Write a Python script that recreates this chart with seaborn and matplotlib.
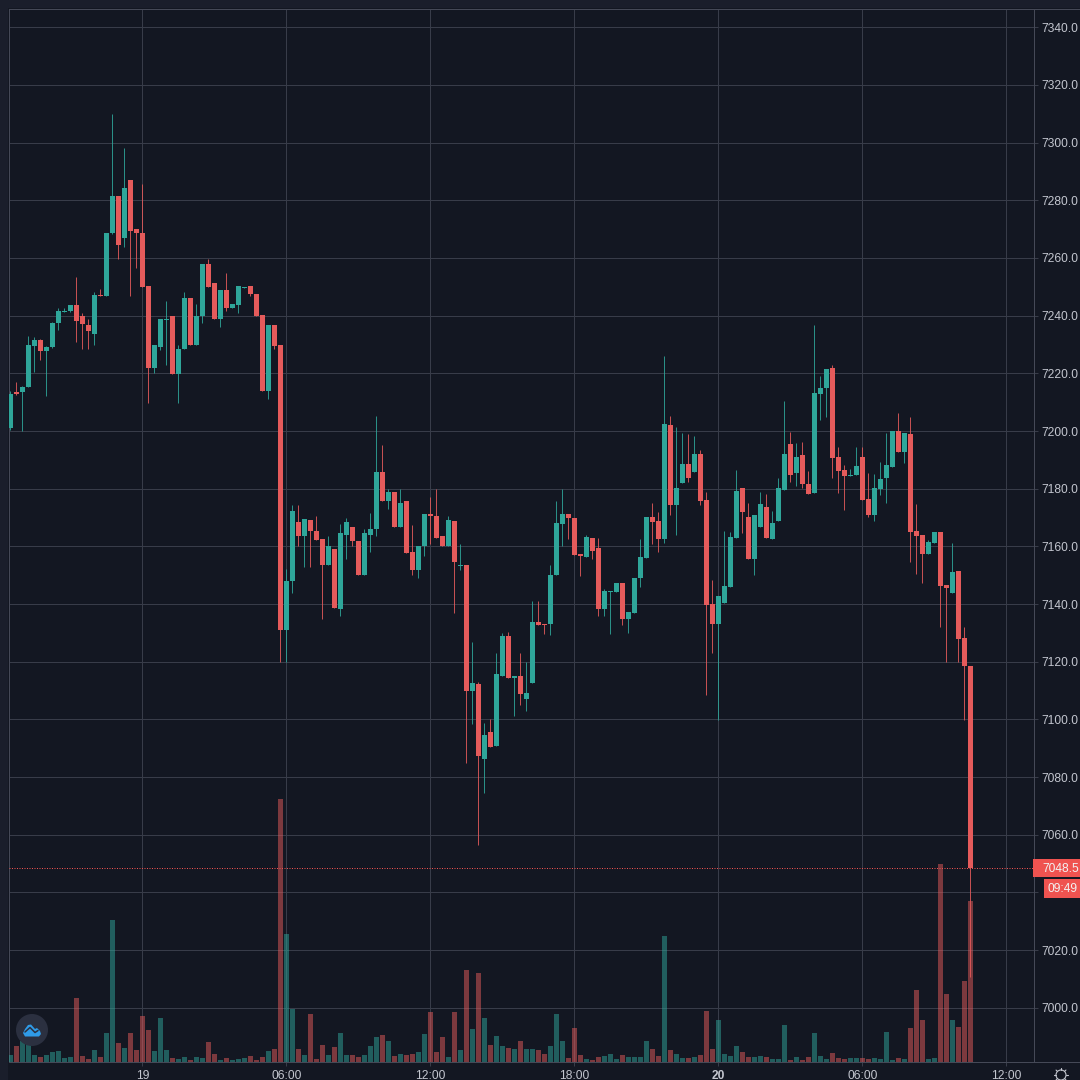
import numpy as np
import matplotlib
matplotlib.use("Agg")
import matplotlib.pyplot as plt
from matplotlib.patches import Rectangle, Circle, Polygon
from matplotlib.lines import Line2D
import seaborn as sns

# 15 minute candles
opens = [7201, 7213.5, 7213.6, 7215.4, 7229.5, 7231.5, 7227.8, 7229, 7237.6, 7241.3,
         7241.7, 7243.6, 7239.8, 7236.7, 7233.5, 7247, 7246.9, 7268.5, 7281.4, 7267,
         7287.2, 7269.9, 7268.8, 7250.2, 7222, 7229.2, 7238.5, 7239.8, 7219.7, 7228.6,
         7246, 7229.8, 7240, 7257.9, 7251.2, 7239, 7248.8, 7242.5, 7243.6, 7249.7,
         7250.2, 7247.5, 7240.2, 7213.9, 7236.7, 7229.8, 7130.9, 7147.9, 7168.3, 7163.5,
         7169.2, 7165.4, 7162.5, 7153.4, 7159.2, 7138.4, 7164, 7166.7, 7162, 7150,
         7164, 7166, 7185.9, 7175.6, 7178.8, 7166.6, 7175.6, 7158, 7151.9, 7160,
         7171.3, 7170.6, 7163.5, 7160, 7168.8, 7153.2, 7153.6, 7109.7, 7112.4, 7086.4,
         7095.5, 7090.9, 7115, 7128.8, 7114.4, 7115, 7107.2, 7112.8, 7133.8, 7133,
         7133, 7150, 7167.9, 7171.2, 7170, 7157.2, 7156.4, 7163, 7159.3, 7138.2,
         7144.2, 7144.3, 7147.3, 7134.9, 7136.8, 7148.9, 7156, 7170.2, 7168.7, 7162.4,
         7202, 7174.5, 7182, 7188.4, 7185.9, 7192, 7176, 7139.9, 7133.2, 7140.2,
         7145.8, 7162.9, 7180.3, 7170.3, 7155.6, 7166.6, 7173.5, 7162.5, 7168.8, 7179.5,
         7195.5, 7185.3, 7191.7, 7181.8, 7178.6, 7212.8, 7214.9, 7221.8, 7191.1, 7186.5,
         7184.4, 7184.6, 7191.1, 7176.3, 7170.9, 7179.9, 7183.8, 7187.6, 7199.9, 7192.7,
         7199, 7165.4, 7163.9, 7157.2, 7161.3, 7165, 7146.6, 7143.7, 7151.6, 7128.2,
         7118.5]
closes = [7212.8, 7213, 7215.4, 7229.8, 7231.5, 7227.8, 7229.2, 7237.6, 7241.6, 7241.7,
          7243.6, 7238.2, 7237, 7234.6, 7247.1, 7246.8, 7268.5, 7281.4, 7264.4, 7284.4,
          7269.3, 7268.7, 7250, 7222, 7230, 7238.8, 7238.8, 7219.7, 7228.6, 7246,
          7229.8, 7240, 7257.9, 7250, 7239, 7248.8, 7242.5, 7243.9, 7250.2, 7250,
          7247.5, 7240, 7213.9, 7236.7, 7229.6, 7130.9, 7148, 7172.4, 7163.5, 7169.5,
          7165.2, 7162.3, 7153.4, 7160, 7138.8, 7164.6, 7168.6, 7162, 7150, 7164.6,
          7166, 7185.9, 7175.6, 7178.8, 7166.6, 7175, 7157.7, 7151.9, 7160.2, 7171.3,
          7170.4, 7163, 7160, 7169, 7154.5, 7153.6, 7110, 7112.6, 7087.2, 7094.6,
          7090.6, 7115.7, 7128.8, 7114.2, 7115, 7108.9, 7109.1, 7133.8, 7132.8, 7132.8,
          7150.2, 7168, 7171.2, 7170, 7157, 7156.8, 7163.4, 7158.5, 7138.2, 7144.5,
          7144.5, 7147.3, 7134.9, 7137.1, 7148.9, 7156.2, 7170.2, 7168.4, 7162.5, 7202.4,
          7174.5, 7180.1, 7188.4, 7183.6, 7191.9, 7175.7, 7139.8, 7133.2, 7142.8, 7146.2,
          7163.2, 7179.3, 7171.9, 7155.6, 7170.9, 7174.7, 7162.8, 7168.1, 7180.1, 7192,
          7184.7, 7191.1, 7181.5, 7178.2, 7213.3, 7214.9, 7221.6, 7190.6, 7186, 7184.4,
          7184.9, 7187.9, 7176, 7171, 7180.1, 7183.4, 7188.2, 7199.9, 7192.7, 7199.2,
          7164.9, 7163.6, 7157.3, 7161.4, 7165, 7146.2, 7145.5, 7151.1, 7127.9, 7118.6,
          7048.5]
highs = [7214, 7217, 7215.6, 7233, 7232.7, 7231.8, 7229.4, 7237.8, 7242.5, 7242.8,
         7243.6, 7253.5, 7241, 7239, 7248.3, 7249.4, 7268.5, 7310, 7281.4, 7298,
         7287.2, 7270.2, 7285.6, 7250.2, 7230, 7238.8, 7245, 7239.8, 7230, 7248.3,
         7246, 7244, 7257.9, 7259.8, 7251.2, 7248.8, 7254.8, 7243.9, 7250.2, 7250,
         7250.2, 7247.5, 7240.2, 7236.7, 7236.7, 7229.8, 7152, 7174.5, 7174.5, 7169.5,
         7169.2, 7170.4, 7162.5, 7163.7, 7159.2, 7167.9, 7169.8, 7166.7, 7162, 7166,
         7171.6, 7205.3, 7195.3, 7180, 7178.8, 7180, 7175.6, 7167.5, 7160.2, 7171.3,
         7177, 7180, 7163.5, 7170.6, 7168.8, 7161, 7153.6, 7127, 7113, 7098.7,
         7100, 7123, 7130, 7130.3, 7115, 7123.2, 7120, 7140.9, 7141, 7133,
         7153.4, 7175.6, 7180, 7171.2, 7170, 7157.2, 7164, 7163, 7162.8, 7145.4,
         7144.5, 7147.3, 7147.3, 7137.1, 7148.9, 7162.5, 7170.2, 7174.9, 7171.8, 7226,
         7205.2, 7201.3, 7199.4, 7199, 7198.3, 7193.4, 7179, 7148.3, 7142.8, 7165.3,
         7165, 7186.5, 7180.3, 7174.9, 7170.9, 7178.8, 7178.2, 7172.4, 7183.6, 7210.4,
         7199.8, 7195.7, 7196.3, 7186.2, 7236.8, 7219, 7221.6, 7223, 7194.3, 7188.2,
         7187, 7194.6, 7194.6, 7185.5, 7185, 7189.4, 7199.4, 7199.9, 7206.4, 7199.2,
         7205, 7174.7, 7163.9, 7162.2, 7165, 7165, 7146.6, 7161.3, 7151.6, 7131.9,
         7118.5]
lows = [7200.5, 7212.5, 7200, 7215.4, 7220.6, 7224.6, 7212, 7228.8, 7235, 7241.3,
        7241.3, 7231, 7228.6, 7228.6, 7229.8, 7246.7, 7246.9, 7268.3, 7259.5, 7263.9,
        7246.9, 7256.4, 7250, 7209.6, 7220, 7228, 7222.9, 7219.7, 7209.6, 7228.6,
        7229.8, 7229.8, 7237.5, 7250, 7239, 7236, 7241.7, 7242.5, 7240.8, 7249.7,
        7246.8, 7240, 7213.9, 7211, 7228.6, 7120, 7120, 7144, 7160, 7152.7,
        7152.7, 7162.3, 7134.8, 7153.4, 7138.8, 7136, 7155.6, 7160, 7150, 7150,
        7157.9, 7163.5, 7175.6, 7173, 7166.6, 7166.6, 7157.7, 7150, 7149, 7156.5,
        7161, 7163, 7160, 7160, 7136.9, 7151.7, 7084.9, 7098.4, 7056.5, 7074.5,
        7090.6, 7090.9, 7115, 7114.2, 7101.3, 7105, 7102.8, 7112.8, 7132.8, 7129.6,
        7129.4, 7150, 7160, 7162.4, 7157, 7149.7, 7156.4, 7155.8, 7136, 7136,
        7129.6, 7144.3, 7132.7, 7129.8, 7136.8, 7145.8, 7156, 7161, 7157.9, 7161.3,
        7170.9, 7164, 7182, 7182.4, 7185.9, 7174.3, 7108.4, 7122.9, 7099.8, 7140.2,
        7145.8, 7162.9, 7164.7, 7155.6, 7150, 7166.6, 7162.8, 7162.5, 7168.8, 7179.5,
        7182.2, 7180.9, 7180.3, 7178.2, 7178.6, 7203.8, 7205, 7183.6, 7178.4, 7172.6,
        7184.4, 7184.6, 7176, 7170.3, 7168.9, 7177.8, 7175.1, 7187.6, 7192.7, 7188.8,
        7154.7, 7150.4, 7147.4, 7157.2, 7161.3, 7131.9, 7119.9, 7143.7, 7119.9, 7099.8,
        7010.7]
volumes = [7, 16, 21, 18, 7, 5, 7, 10, 11, 4, 5, 64, 6, 3, 12, 5, 29, 142, 19, 14,
           29, 12, 46, 32, 11, 44, 12, 4, 3, 5, 2, 5, 4, 20, 8, 2, 4, 2, 3, 4,
           6, 2, 5, 11, 13, 263, 128, 53, 13, 7, 48, 3, 17, 7, 15, 29, 7, 7, 5, 7,
           16, 25, 27, 21, 6, 8, 7, 8, 10, 28, 50, 10, 25, 5, 50, 12, 92, 33, 89, 44,
           17, 26, 16, 14, 13, 21, 13, 13, 12, 8, 16, 48, 21, 4, 34, 7, 3, 2, 5, 6,
           8, 3, 7, 5, 5, 5, 21, 13, 6, 126, 12, 8, 4, 4, 5, 7, 51, 13, 42, 8,
           6, 16, 10, 5, 5, 6, 5, 3, 3, 37, 2, 5, 2, 5, 29, 6, 3, 9, 4, 3,
           4, 4, 4, 3, 4, 3, 30, 2, 4, 3, 34, 72, 42, 3, 4, 198, 68, 42, 35, 81,
           161]
price_ticks = list(range(7000, 7341, 20))
time_ticks = [22, 46, 70, 94, 118, 142, 166]
time_labels = ["19", "06:00", "12:00", "18:00", "20", "06:00", "12:00"]
last_price = 7048.5
countdown = "09:49"

UP = "#2fa69a"
DOWN = "#e55b5b"
PANE = "#131722"
MARGIN = "#1a1e2b"
GRID = "#383c49"
TEXT = "#c3c6cf"

sns.set_theme(style="dark")
plt.rcParams["font.family"] = ["Liberation Sans", "DejaVu Sans"]
plt.rcParams["font.size"] = 8.64


def px(x, y):
    # pixel position in the picture -> figure fraction
    return x / 1080, 1 - y / 1080


fig = plt.figure(figsize=(10.8, 10.8), dpi=100, facecolor=MARGIN)
fig.add_artist(Rectangle(px(8, 1080), 1072 / 1080, 1072 / 1080, transform=fig.transFigure,
                         facecolor=PANE, edgecolor="none", zorder=-5))

left, bottom = px(8.5, 1061.5)
rect = [left, bottom, 1025 / 1080, 1053 / 1080]
ax = fig.add_axes(rect, facecolor=PANE)
ax_vol = fig.add_axes(rect, facecolor="none", zorder=2)
ax_top = fig.add_axes(rect, facecolor="none", zorder=3)

idx = np.arange(len(opens))
o = np.array(opens)
c = np.array(closes)
h = np.array(highs)
l = np.array(lows)
v = np.array(volumes)
up = c >= o

xlim = (-0.33, 170.5)
ylim = (6981.4, 7346.5)

# volume bars behind the candles, one y unit is one pixel here
for mask, col in [(up, UP), (~up, DOWN)]:
    sns.barplot(x=idx[mask], y=v[mask], native_scale=True, width=0.84, color=col, saturation=1,
                alpha=0.5, linewidth=0, errorbar=None, ax=ax_vol)
    sns.barplot(x=idx[mask], y=np.maximum(np.abs(c - o)[mask], 0.35),
                bottom=np.minimum(o, c)[mask], native_scale=True, width=0.84, color=col,
                saturation=1, linewidth=0, errorbar=None, ax=ax_top)
    ax_top.vlines(idx[mask], l[mask], h[mask], color=col, linewidth=0.72, alpha=0.85)

ax_top.axhline(last_price, color="#ef5350", linewidth=0.72, linestyle=(0, (1, 1.5)))

ax_vol.set_ylim(0, 1053)
for a in (ax, ax_vol, ax_top):
    a.set_xlim(*xlim)
    a.set_xlabel("")
    a.set_ylabel("")
ax_top.set_ylim(*ylim)
ax.set_ylim(*ylim)

for a in (ax_vol, ax_top):
    a.set_xticks([])
    a.set_yticks([])
    for s in a.spines.values():
        s.set_visible(False)

ax.yaxis.tick_right()
ax.set_yticks(price_ticks)
# 7040 sits under the price tags in the reference, so it gets no label
ax.set_yticklabels(["" if t == 7040 else f"{t:.1f}" for t in price_ticks])
ax.set_xticks(time_ticks)
ax.set_xticklabels(time_labels)
ax.get_xticklabels()[4].set_fontweight("bold")
ax.tick_params(axis="y", which="major", right=True, length=3, width=0.72, color=GRID,
               labelcolor=TEXT, labelsize=8.64, pad=3)
ax.tick_params(axis="x", which="major", bottom=True, length=3, width=0.72, color=GRID,
               labelcolor=TEXT, labelsize=8.64, pad=3)
ax.grid(True, color=GRID, linewidth=0.72)
ax.set_axisbelow(True)
for s in ax.spines.values():
    s.set_color("#454957")
    s.set_linewidth(0.72)

# bottom axis line runs on to the picture edge
fig.add_artist(Line2D([1033 / 1080, 1], [bottom, bottom], color="#454957", linewidth=0.72))
fig.add_artist(Line2D([1033 / 1080, 1], [px(0, 8.5)[1]] * 2, color="#454957", linewidth=0.72))

# last price and countdown tags
fig.add_artist(Rectangle(px(1033, 877), 47 / 1080, 18 / 1080, transform=fig.transFigure,
                         facecolor="#ef5350", edgecolor="none", zorder=5))
fig.add_artist(Rectangle(px(1044, 898), 36 / 1080, 19 / 1080, transform=fig.transFigure,
                         facecolor="#ef5350", edgecolor="none", zorder=5))
fig.text(*px(1042, 868.5), f"{last_price:.1f}", color="#f2f2f2", va="center", ha="left", zorder=6)
fig.text(*px(1047.5, 888.5), countdown, color="#f2f2f2", va="center", ha="left", zorder=6)

# logo badge
fig.add_artist(Circle(px(32, 1030), 16 / 1080, transform=fig.transFigure, facecolor="#2b3040",
                      edgecolor="none", zorder=6))
cloud = [(23, 1033), (25, 1029), (28, 1025), (31, 1024.5), (35, 1029), (37, 1028), (40, 1031),
         (41, 1034), (39, 1036.5), (25, 1036.5)]
fig.add_artist(Polygon([px(*p) for p in cloud], transform=fig.transFigure, facecolor="#2f9be8",
                       edgecolor="none", zorder=7))
zig = [(25, 1032), (30, 1027.5), (35, 1032.5), (38, 1030.5)]
fig.add_artist(Line2D(*zip(*[px(*p) for p in zig]), color="#2b3040", linewidth=1.1, zorder=8))

# settings gear at the corner, cut by the picture edge
fig.add_artist(Circle(px(1061, 1075), 5 / 1080, transform=fig.transFigure, facecolor="none",
                      edgecolor=TEXT, linewidth=0.8, zorder=6))
for ang in np.arange(0, 360, 45):
    dx, dy = np.cos(np.radians(ang)), np.sin(np.radians(ang))
    p0 = px(1061 + 5 * dx, 1075 + 5 * dy)
    p1 = px(1061 + 7 * dx, 1075 + 7 * dy)
    fig.add_artist(Line2D([p0[0], p1[0]], [p0[1], p1[1]], color=TEXT, linewidth=0.8, zorder=6))

fig.savefig("out.png", dpi=100, facecolor=fig.get_facecolor())
